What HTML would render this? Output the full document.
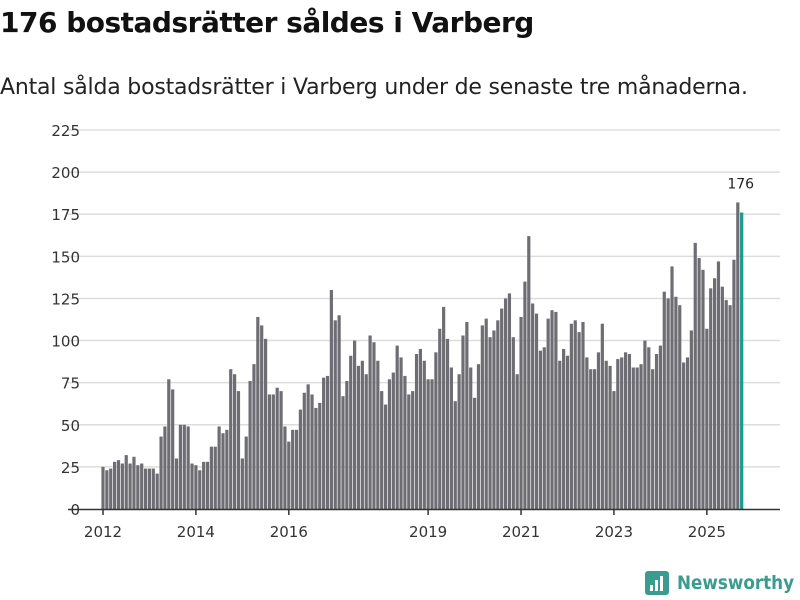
<!DOCTYPE html>
<html><head><meta charset="utf-8">
<style>
body{margin:0;background:#fff;width:800px;height:600px;overflow:hidden;font-family:"Liberation Sans","DejaVu Sans",sans-serif}
#title{position:absolute;left:0;top:6px;font-size:28px;font-weight:bold;color:#111;font-family:"DejaVu Sans",sans-serif;letter-spacing:-0.5px}
#sub{position:absolute;left:0;top:75px;font-size:22px;color:#222;font-family:"DejaVu Sans",sans-serif;letter-spacing:-0.2px;white-space:nowrap}
svg{position:absolute;left:0;top:0}
</style></head><body>
<div id="title">176 bostadsrätter såldes i Varberg</div>
<div id="sub">Antal sålda bostadsrätter i Varberg under de senaste tre månaderna.</div>
<svg id="chart" width="800" height="600"></svg>
<script>
const values=[25,23,24,28,29,27,32,27,31,26,27,24,24,24,21,43,49,77,71,30,50,50,49,
27,26,23,28,28,37,37,49,45,47,83,80,70,30,43,76,86,114,109,101,68,68,72,70,49,40,47,47,59,69,
74,68,60,63,78,79,130,112,115,67,76,91,100,85,88,80,103,99,88,70,62,77,81,97,90,79,68,70,92,95,
88,77,77,93,107,120,101,84,64,80,103,111,84,66,86,109,113,102,106,112,119,125,128,102,80,114,135,162,122,116,
94,96,113,118,117,88,95,91,110,112,105,111,90,83,83,93,110,88,85,70,89,90,93,92,84,84,86,100,96,83,
92,97,129,125,144,126,121,87,90,106,158,149,142,107,131,137,147,132,124,121,148,182,176];
const yTicks=[0,25,50,75,100,125,150,175,200,225];
const xTickYears=[2012,2014,2016,2019,2021,2023,2025];
const startYear=2012;
const NS="http://www.w3.org/2000/svg";
const svg=document.getElementById('chart');
const y=v=>509-v*(379/225);
const xm=i=>103+i*(46.45/12);
function mk(t,a){const e=document.createElementNS(NS,t);for(const k in a)e.setAttribute(k,a[k]);svg.appendChild(e);return e;}
yTicks.forEach(t=>{
  if(t>0){const g=mk('line',{x1:68,x2:780,y1:y(t),y2:y(t),stroke:'#dddddd','stroke-width':1.5});
  
  }
  const l=mk('text',{x:80,y:y(t)+6,'text-anchor':'end','font-size':15,fill:'#333','font-family':'DejaVu Sans, sans-serif'});
  l.textContent=t;
  
  
});
values.forEach((v,i)=>{
  const last=i===values.length-1;
  const b=mk('rect',{x:xm(i)-1.6,y:y(v),width:3.2,height:509-y(v),fill:last?'#1a9a8e':'#6e6d73'});
  
  
  if(last){const t=mk('text',{x:xm(i)-1,y:y(values[i-1])-14,'text-anchor':'middle','font-size':14,fill:'#222','font-family':'DejaVu Sans, sans-serif'});
  t.textContent=v;
  
  }
});
const ax=mk('line',{x1:68,x2:780,y1:509.5,y2:509.5,stroke:'#333','stroke-width':1.5});


xTickYears.forEach(yr=>{
  const x=xm((yr-startYear)*12);
  const tk=mk('line',{x1:x,x2:x,y1:509,y2:515,stroke:'#333','stroke-width':1.5});
  
  
  const l=mk('text',{x:x,y:537,'text-anchor':'middle','font-size':15,fill:'#333','font-family':'DejaVu Sans, sans-serif'});
  l.textContent=yr;
  
  
});
const ic=mk('rect',{x:645,y:571,width:24,height:24,rx:3,fill:'#3a9c8f'});


[[650,585,3,6],[655,580,3,11],[660,576,3,15]].forEach(r=>{const b=mk('rect',{x:r[0],y:r[1],width:r[2],height:r[3],fill:'#fff'});

});
const lt=mk('text',{x:677,y:589,'font-size':19,fill:'#3a9c8f','font-weight':'bold','font-family':'DejaVu Sans, sans-serif',textLength:117,lengthAdjust:'spacingAndGlyphs'});
lt.textContent='Newsworthy';


</script>
</body></html>
